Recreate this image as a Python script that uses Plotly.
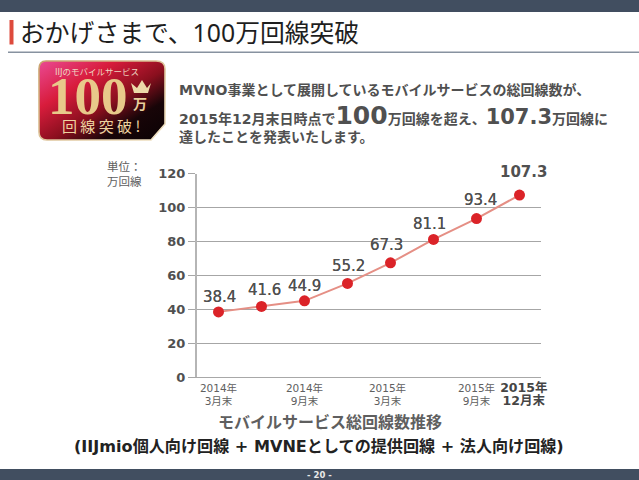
import base64
import plotly.graph_objects as go

W, H = 639, 480
positions = [0, 1, 2, 3, 4, 5, 6, 7]
values = [38.4, 41.6, 44.9, 55.2, 67.3, 81.1, 93.4, 107.3]
value_labels = ["38.4", "41.6", "44.9", "55.2", "67.3", "81.1", "93.4", "107.3"]
y_ticks = [0, 20, 40, 60, 80, 100, 120]
y_tick_labels = ["<b>0</b>", "<b>20</b>", "<b>40</b>", "<b>60</b>", "<b>80</b>", "<b>100</b>", "<b>120</b>"]
x_tick_positions = [0, 2, 3.93, 6, 7.1]
x_tick_labels = ["2014年<br>3月末", "2014年<br>9月末", "2015年<br>3月末", "2015年<br>9月末",
                 "<span style='font-size:12.5px;color:#454545'><b>2015年<br>12月末</b></span>"]
title_text = "おかげさまで、100万回線突破"
label_dx = [1, 3, 0, 1, -4, -4, 4, 4]
label_dy = [4, 5, 4, 6, 7, 4, 8, 12]
CJK = "DejaVu Sans, 'Noto Sans CJK JP', sans-serif"
TITLE = "'Noto Sans', 'Noto Sans CJK JP', sans-serif"
GREY = "#505050"

svg = """<svg xmlns='http://www.w3.org/2000/svg' width='128' height='82' viewBox='0 0 128 82'>
<defs><linearGradient id='g' x1='0' y1='0' x2='1' y2='1'>
<stop offset='0' stop-color='#ea4a94'/><stop offset='0.3' stop-color='#d81c3c'/>
<stop offset='0.55' stop-color='#8a0f1e'/><stop offset='0.75' stop-color='#180508'/>
<stop offset='1' stop-color='#0a0204'/></linearGradient>
<linearGradient id='b' x1='0' y1='0' x2='1' y2='1'><stop offset='0' stop-color='#c9a36c'/>
<stop offset='1' stop-color='#f0e2c4'/></linearGradient></defs>
<path d='M8 1 H118 Q127 1 127 9 V64 L113 80 H9 Q1 80 1 72 V9 Q1 1 8 1 Z' fill='url(#g)' stroke='url(#b)' stroke-width='1.6'/>
<path d='M93 23 L99 28 L104 20 L109 28 L113 23 L110 33 H96 Z' fill='#ecd9a8'/>
</svg>"""
badge = "data:image/svg+xml;base64," + base64.b64encode(svg.encode()).decode()

fig = go.Figure(go.Scatter(
    x=positions, y=values, mode="lines+markers",
    line=dict(color="#e58f85", width=2),
    marker=dict(color="#db2328", size=11),
    hoverinfo="skip", cliponaxis=False,
))


def note(px, py, text, size, color=GREY, anchor="center", font=CJK, shadow=None):
    f = dict(size=size, color=color, family=font)
    if shadow:
        f["shadow"] = shadow
    fig.add_annotation(xref="paper", yref="paper", x=px / W, y=1 - py / H, text=text,
                       showarrow=False, xanchor=anchor, yanchor="middle", align=anchor, font=f)


def box(x0, y0, x1, y1, color):
    fig.add_shape(type="rect", xref="paper", yref="paper", x0=x0 / W, x1=x1 / W,
                  y0=1 - y0 / H, y1=1 - y1 / H, fillcolor=color, line_width=0, layer="below")


box(0, 0, W, 12, "#414e60")
box(0, 469, W, H, "#414e60")
box(8, 51.5, W, 53, "#8792a0")
box(9.5, 20, 13.5, 44.5, "#dd4a3c")

note(18, 32, title_text, 24.8, "#1e1e1e", "left", TITLE)
note(319, 474.5, "<b>- 20 -</b>", 8.5, "#e8e8e8")

# badge lettering
note(97, 72, "IIJのモバイルサービス", 8.5, "#eed6c0")
note(88, 96, "<b>100</b>", 53, "#e8c98a", font="'Liberation Serif', serif")
note(140, 104, "<b>万</b>", 14, "#e8cf9c")
note(101, 126, "回 線 突 破 !", 15, "#eed3a0", font="'Noto Sans CJK JP', sans-serif")

# intro copy
note(177, 90, "<b>MVNO事業として展開しているモバイルサービスの総回線数が、</b>", 14, anchor="left")
note(177, 115, "<b>2015年12月末日時点で<span style='font-size:25px'>100</span>万回線を超え、"
               "<span style='font-size:21px'>107.3</span>万回線に</b>", 14, anchor="left")
note(177, 137.5, "<b>達したことを発表いたします。</b>", 14, anchor="left")

note(124, 175, "単位：<br>万回線", 11.5, "#606060")

for p, v, s, dx, dy in zip(positions, values, value_labels, label_dx, label_dy):
    big = s == "107.3"
    fig.add_annotation(x=p, y=v, text=f"<b>{s}</b>" if big else s, showarrow=False, yanchor="bottom",
                       yshift=dy, xshift=dx,
                       font=dict(size=15, color=GREY, family=CJK,
                                 shadow="none" if big else "0 0 0.6px #505050"))

note(330, 422, "<b>モバイルサービス総回線数推移</b>", 16, "#5f5f5f")
note(319, 446, "<b>(IIJmio個人向け回線 + MVNEとしての提供回線 + 法人向け回線)</b>", 16.1, "#222222")

fig.add_layout_image(source=badge, xref="paper", yref="paper", x=38 / W, y=1 - 60 / H,
                     sizex=128 / W, sizey=82 / H, xanchor="left", yanchor="top",
                     sizing="stretch", layer="below")

fig.update_layout(
    width=W, height=H, margin=dict(l=0, r=0, t=0, b=0, pad=0),
    paper_bgcolor="white", plot_bgcolor="white", showlegend=False,
    xaxis=dict(domain=[197 / W, 541 / W], range=[-0.5, 7.5], tickmode="array", automargin=False,
               tickangle=0,
               tickvals=x_tick_positions, ticktext=x_tick_labels, showgrid=False,
               showline=True, linecolor="#a8a8a8", linewidth=1, zeroline=False,
               ticks="outside", ticklen=1, tickcolor="rgba(0,0,0,0)",
               tickfont=dict(size=10.5, color="#606060", family=CJK)),
    yaxis=dict(domain=[1 - 377 / H, 1 - 173.5 / H], range=[0, 120], tickmode="array", automargin=False,
               tickvals=y_ticks, ticktext=y_tick_labels, showgrid=True, gridcolor="#a6a6a6", gridwidth=1,
               showline=True, linecolor="#b5b5b5", linewidth=2, zeroline=False,
               ticks="outside", ticklen=7, tickcolor="#a6a6a6", tickwidth=1,
               tickfont=dict(size=13, color=GREY, family="DejaVu Sans")),
)
fig.write_html("out.html", config=dict(displayModeBar=False),
               post_script="document.body.style.margin='0';document.documentElement.style.overflow='hidden';")
